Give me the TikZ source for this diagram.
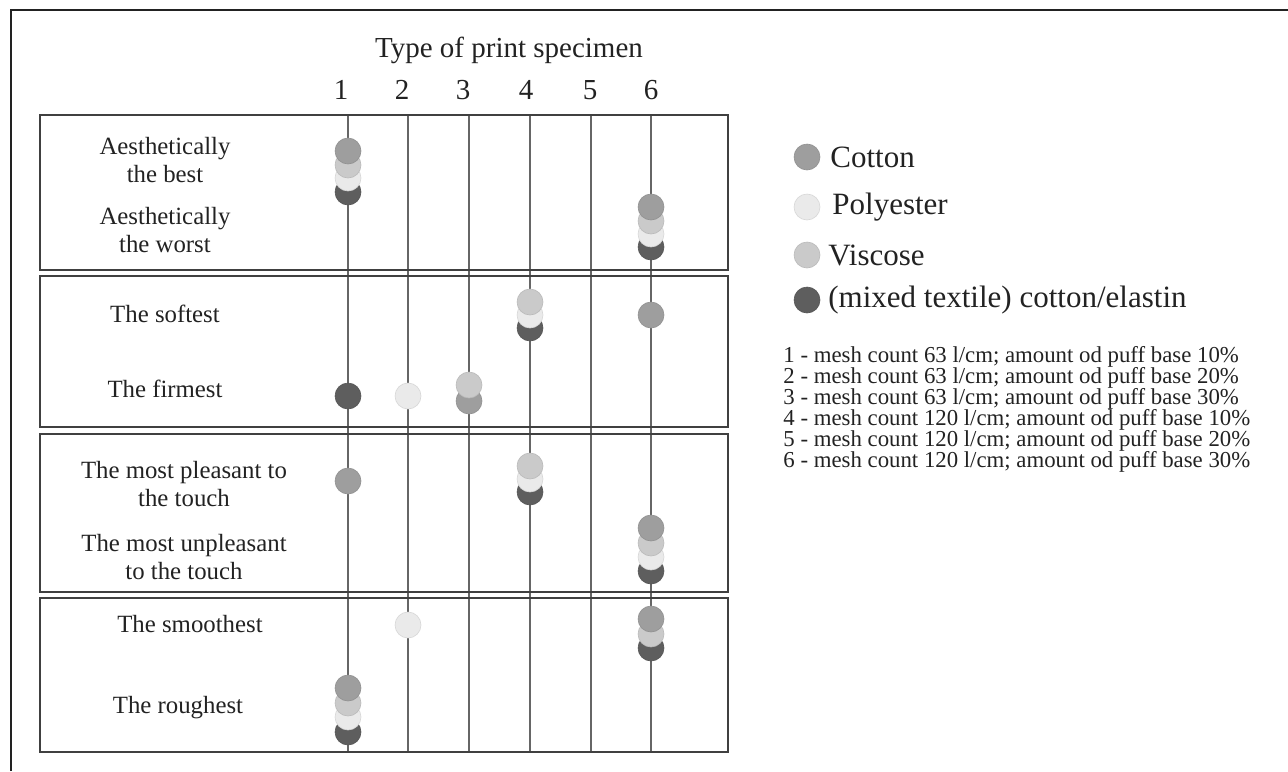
\documentclass[tikz,border=0pt]{standalone}
\usepackage{fontspec}
\setmainfont{Liberation Serif}
\usepackage{xcolor}
\definecolor{cottongray}{RGB}{158,158,158}
\definecolor{polygray}{RGB}{234,234,234}
\definecolor{viscgray}{RGB}{202,202,202}
\definecolor{mixgray}{RGB}{94,94,94}
\definecolor{inkgray}{RGB}{34,34,34}
\tikzset{
  frame/.style={draw=inkgray, line width=1pt},
  panel/.style={draw=black!75, line width=0.8pt},
  column/.style={draw=black!60, line width=0.7pt},
  fibre/.style={circle, inner sep=0pt, minimum size=13pt, fill=#1, draw=#1!92!black, line width=0.3pt},
  head/.style={text=inkgray, font=\fontsize{14.5}{17}\selectfont, inner sep=0pt},
  rowlabel/.style={text=inkgray, align=center, font=\fontsize{12.4}{13.6}\selectfont, inner sep=0pt},
  legend/.style={text=inkgray, anchor=west, font=\fontsize{15.5}{18}\selectfont, inner sep=0pt},
  keyline/.style={text=inkgray, anchor=west, font=\fontsize{11.4}{12}\selectfont, inner sep=0pt}
}

\begin{document}
\begin{tikzpicture}[x=0.5pt,y=-0.5pt]
    \useasboundingbox (0,0) rectangle (1288,771);
    % outer frame
    \draw[frame] (11,771) -- (11,10) -- (1288,10);
    % specimen columns
    \foreach \x in {348,408,469,530,591,651}
        \draw[column] (\x,115) -- (\x,752);
    \node[head] (title) at (509,50) {Type of print specimen};
    \foreach \n/\x in {1/341,2/402,3/463,4/526,5/590,6/651}
        \node[head] (spec\n) at (\x,90) {\n};
    % panels
    \foreach \t/\b in {115/270,276/427,434/592,598/752}
        \draw[panel] (40,\t) rectangle (728,\b);
    % row labels
    \node[rowlabel] (best) at (165,160) {Aesthetically\\the best};
    \node[rowlabel] (worst) at (165,230) {Aesthetically\\the worst};
    \node[rowlabel] (soft) at (165,314) {The softest};
    \node[rowlabel] (firm) at (165,389) {The firmest};
    \node[rowlabel] (pleasant) at (184,484) {The most pleasant to\\the touch};
    \node[rowlabel] (unpleasant) at (184,557) {The most unpleasant\\to the touch};
    \node[rowlabel] (smooth) at (190,624) {The smoothest};
    \node[rowlabel] (rough) at (178,708) {The roughest};
    % fibre dots, lower ones first
    \foreach \x/\y/\c [count=\k] in {
        348/192/mixgray, 348/178/polygray, 348/165/viscgray, 348/151/cottongray,
        651/247/mixgray, 651/234/polygray, 651/221/viscgray, 651/207/cottongray,
        530/328/mixgray, 530/315/polygray, 530/302/viscgray,
        651/315/cottongray,
        348/396/mixgray, 408/396/polygray, 469/401/cottongray, 469/385/viscgray,
        348/481/cottongray,
        530/492/mixgray, 530/479/polygray, 530/466/viscgray,
        651/571/mixgray, 651/557/polygray, 651/543/viscgray, 651/528/cottongray,
        408/625/polygray,
        651/648/mixgray, 651/634/viscgray, 651/619/cottongray,
        348/732/mixgray, 348/717/polygray, 348/703/viscgray, 348/688/cottongray}
        \node[fibre=\c] (dot\k) at (\x,\y) {};
    % legend
    \node[fibre=cottongray] (kcotton) at (807,157) {};
    \node[legend] (lcotton) at (830,157) {Cotton};
    \node[fibre=polygray] (kpoly) at (807,207) {};
    \node[legend] (lpoly) at (832,207) {Polyester};
    \node[fibre=viscgray] (kvisc) at (807,255) {};
    \node[legend] (lvisc) at (828,255) {Viscose};
    \node[fibre=mixgray] (kmix) at (807,300) {};
    \node[legend] (lmix) at (828,300) {(mixed textile) cotton/elastin};
    \foreach \n/\m/\p in {1/63/10,2/63/20,3/63/30,4/120/10,5/120/20,6/120/30}
        \node[keyline] (key\n) at (783,{357+20.9*(\n-1)})
            {\n\ - mesh count \m\ l/cm; amount od puff base \p\%};
\end{tikzpicture}
\end{document}
